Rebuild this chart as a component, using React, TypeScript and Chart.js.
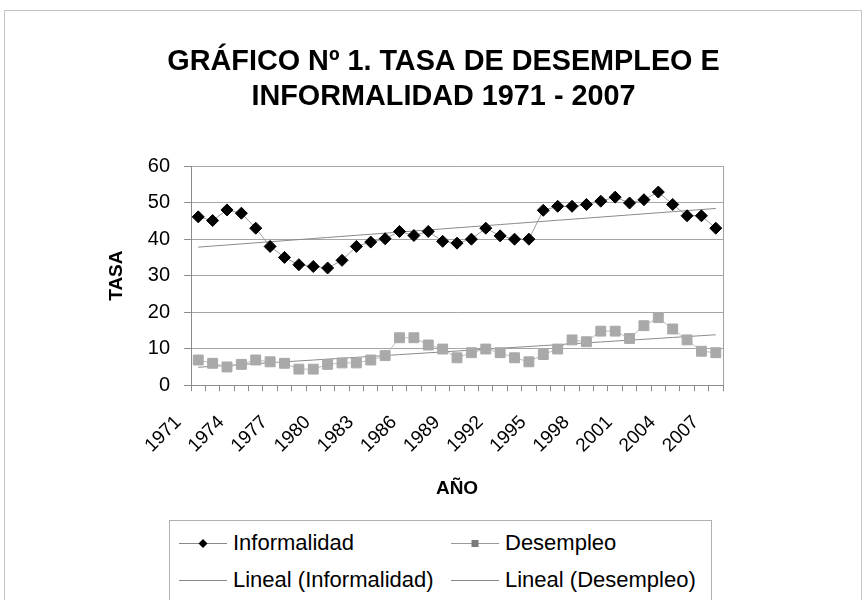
import React, { useEffect, useRef } from 'react';
import { Chart, registerables } from 'chart.js';

Chart.register(...registerables);

const years = [
  '1971', '1972', '1973', '1974', '1975', '1976', '1977', '1978', '1979', '1980',
  '1981', '1982', '1983', '1984', '1985', '1986', '1987', '1988', '1989', '1990',
  '1991', '1992', '1993', '1994', '1995', '1996', '1997', '1998', '1999', '2000',
  '2001', '2002', '2003', '2004', '2005', '2006', '2007',
];

const informalidad = [
  46.1, 45.1, 48.0, 47.1, 43.0, 38.0, 35.0, 33.0, 32.5, 32.1,
  34.2, 38.0, 39.2, 40.1, 42.1, 41.0, 42.1, 39.4, 38.9, 40.0,
  43.0, 40.9, 40.0, 40.0, 47.9, 49.0, 49.0, 49.5, 50.4, 51.5,
  49.9, 50.8, 52.9, 49.5, 46.4, 46.4, 43.0,
];

const desempleo = [
  6.9, 6.0, 5.0, 5.7, 6.9, 6.4, 6.0, 4.4, 4.4, 5.7,
  6.1, 6.1, 6.9, 8.1, 13.0, 13.0, 11.0, 9.9, 7.5, 8.9,
  9.9, 8.9, 7.5, 6.4, 8.4, 9.9, 12.4, 11.9, 14.8, 14.8,
  12.8, 16.3, 18.5, 15.4, 12.4, 9.3, 8.9,
];

const yMin = 0;
const yMax = 60;
const yStep = 10;
const labelEvery = 3;

const seriesNames = ['Informalidad', 'Desempleo', 'Lineal (Informalidad)', 'Lineal (Desempleo)'];
const titleLines = ['GRÁFICO Nº 1. TASA DE DESEMPLEO E', 'INFORMALIDAD 1971 - 2007'];
const yTitle = 'TASA';
const xTitle = 'AÑO';

const FONT = "'Liberation Sans', Arial, Helvetica, sans-serif";

// Least-squares linear trend ("Lineal") computed from the series itself
function linearTrend(values: number[]): number[] {
  const n = values.length;
  let sx = 0, sy = 0, sxx = 0, sxy = 0;
  values.forEach((v, i) => {
    sx += i; sy += v; sxx += i * i; sxy += i * v;
  });
  const slope = (n * sxy - sx * sy) / (n * sxx - sx * sx);
  const icpt = (sy - slope * sx) / n;
  return values.map((_, i) => icpt + slope * i);
}

const plotFrame = {
  id: 'plotFrame',
  beforeDatasetsDraw(chart: any) {
    const { ctx, chartArea } = chart;
    ctx.save();
    ctx.strokeStyle = '#a0a0a0';
    ctx.lineWidth = 1;
    ctx.beginPath();
    ctx.moveTo(Math.round(chartArea.right) + 0.5, chartArea.top);
    ctx.lineTo(Math.round(chartArea.right) + 0.5, chartArea.bottom);
    ctx.stroke();
    ctx.restore();
  },
};

const legendStyles = [
  { line: '#8a8a8a', marker: 'diamond', fill: '#000000' },
  { line: '#9a9a9a', marker: 'square', fill: '#7a7a7a' },
  { line: '#8a8a8a', marker: 'none', fill: '' },
  { line: '#8a8a8a', marker: 'none', fill: '' },
];

function LegendSample({ idx }: { idx: number }) {
  const s = legendStyles[idx];
  return (
    <svg width={48} height={20} style={{ display: 'block', flex: '0 0 auto' }}>
      <line x1={0} y1={10.5} x2={48} y2={10.5} stroke={s.line} strokeWidth={1} />
      {s.marker === 'diamond' && (
        <polygon points="24,6 28.5,10.5 24,15 19.5,10.5" fill={s.fill} />
      )}
      {s.marker === 'square' && <rect x={20.5} y={7} width={7} height={7} fill={s.fill} />}
    </svg>
  );
}

export default function App() {
  const canvasRef = useRef<HTMLCanvasElement | null>(null);

  useEffect(() => {
    if (!canvasRef.current) return;
    const chart = new Chart(canvasRef.current, {
      type: 'line',
      data: {
        labels: years,
        datasets: [
          {
            label: seriesNames[0],
            data: informalidad,
            borderColor: '#9c9c9c',
            borderWidth: 1,
            pointStyle: 'rectRot',
            pointRadius: 6,
            pointBackgroundColor: '#000000',
            pointBorderColor: '#000000',
            pointBorderWidth: 1,
            tension: 0,
          },
          {
            label: seriesNames[1],
            data: desempleo,
            borderColor: '#bcbcbc',
            borderWidth: 1,
            pointStyle: 'rect',
            pointRadius: 7,
            pointBackgroundColor: '#a9a9a9',
            pointBorderColor: '#a9a9a9',
            pointBorderWidth: 1,
            tension: 0,
          },
          {
            label: seriesNames[2],
            data: linearTrend(informalidad),
            borderColor: '#8a8a8a',
            borderWidth: 1,
            pointRadius: 0,
            tension: 0,
          },
          {
            label: seriesNames[3],
            data: linearTrend(desempleo),
            borderColor: '#8a8a8a',
            borderWidth: 1,
            pointRadius: 0,
            tension: 0,
          },
        ],
      },
      options: {
        responsive: false,
        animation: false,
        devicePixelRatio: 1,
        layout: { padding: { left: 105, right: 86, top: 0, bottom: 100 } },
        plugins: {
          legend: { display: false },
          tooltip: { enabled: false },
          title: {
            display: true,
            text: titleLines,
            color: '#000000',
            font: { family: FONT, size: 28.8, weight: 'bold', lineHeight: 1.2 },
            padding: { top: 45, bottom: 52 },
          },
        },
        scales: {
          x: {
            type: 'category',
            offset: true,
            grid: {
              offset: true,
              drawOnChartArea: false,
              drawTicks: true,
              tickLength: 6,
              color: '#8c8c8c',
            },
            border: { color: '#8c8c8c' },
            ticks: {
              autoSkip: false,
              maxRotation: 45,
              minRotation: 45,
              padding: 20,
              labelOffset: -20,
              color: '#000000',
              font: { family: FONT, size: 19 },
              callback: (_v: any, i: number) => (i % labelEvery === 0 ? years[i] : ''),
            },
            title: {
              display: true,
              text: xTitle,
              color: '#000000',
              font: { family: FONT, size: 19, weight: 'bold' },
              padding: { top: 0, bottom: 0 },
            },
          },
          y: {
            min: yMin,
            max: yMax,
            grid: { color: '#a6a6a6', tickLength: 7, tickColor: '#8c8c8c' },
            border: { color: '#8c8c8c' },
            ticks: {
              stepSize: yStep,
              padding: 14,
              color: '#000000',
              font: { family: FONT, size: 20 },
            },
            title: {
              display: true,
              text: yTitle,
              color: '#000000',
              font: { family: FONT, size: 19, weight: 'bold' },
              padding: { top: 0, bottom: 6 },
            },
          },
          // empty spacer on the right so the chart title centres like the original
          ySpacer: {
            position: 'right',
            display: true,
            grid: { display: false },
            border: { display: false },
            ticks: { display: false },
            afterFit: (scale: any) => {
              scale.width = 59;
            },
          },
        },
      },
      plugins: [plotFrame],
    });
    return () => chart.destroy();
  }, []);

  return (
    <div
      style={{
        position: 'fixed',
        left: 0,
        top: 0,
        width: 868,
        height: 600,
        overflow: 'hidden',
        background: '#ffffff',
      }}
    >
      <div
        style={{
          position: 'absolute',
          left: 4,
          top: 10,
          width: 856,
          height: 620,
          border: '1px solid #c4c4c4',
        }}
      />
      <canvas ref={canvasRef} width={868} height={600} style={{ position: 'absolute', left: 0, top: 0 }} />
      <div
        style={{
          position: 'absolute',
          left: 169,
          top: 520,
          width: 543,
          height: 100,
          border: '1px solid #b0b0b0',
          background: '#ffffff',
          fontFamily: FONT,
          fontSize: 22,
          color: '#000000',
          boxSizing: 'border-box',
          paddingTop: 3,
          paddingLeft: 9,
          display: 'grid',
          gridTemplateColumns: '272px auto',
          gridAutoRows: '37px',
        }}
      >
        {seriesNames.map((name, i) => (
          <div key={name} style={{ display: 'flex', alignItems: 'center', whiteSpace: 'nowrap' }}>
            <LegendSample idx={i} />
            <span style={{ marginLeft: 6 }}>{name}</span>
          </div>
        ))}
      </div>
    </div>
  );
}
